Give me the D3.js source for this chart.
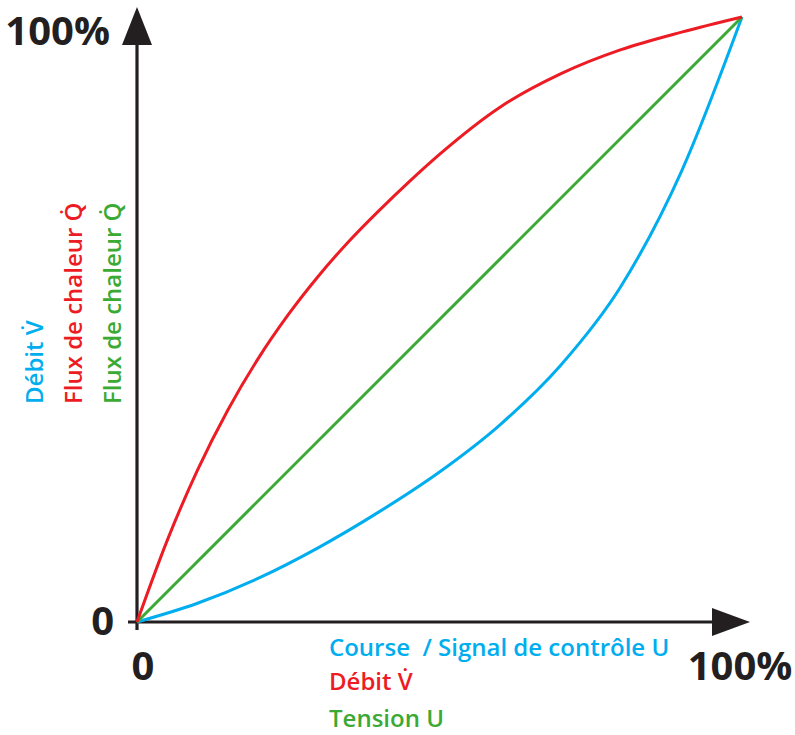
<!DOCTYPE html>
<html>
<head>
<meta charset="utf-8">
<script src="https://cdn.jsdelivr.net/npm/d3@7"></script>
<style>
  html, body { margin: 0; padding: 0; background: #fff; }
  svg text { font-family: "Open Sans", "Noto Sans", sans-serif; white-space: pre; }
</style>
</head>
<body>
<svg id="chart" width="795" height="735"></svg>
<script>
// ---- data ----
const tickValues = [0, 100];
const tickLabels = ["0", "100%"];

const redX = [0, 5, 10, 15, 20, 25, 30, 35, 40, 45, 50, 60, 70, 80, 90, 100];
const redY = [0, 13.5, 25.1, 35.0, 43.5, 50.8, 57.2, 62.9, 68.0, 72.8, 77.3, 85.1, 90.6, 94.6, 97.5, 100];
const greenX = [0, 100];
const greenY = [0, 100];
const blueX = [0, 10, 20, 30, 40, 50, 60, 70, 80, 90, 100];
const blueY = [0, 3.1, 7.2, 12.3, 18.2, 24.8, 32.6, 42.4, 55.5, 74.5, 100];

const xLabels = ["Course  / Signal de contr\u00f4le U", "D\u00e9bit V\u0307", "Tension U"];
const yLabels = ["D\u00e9bit V\u0307", "Flux de chaleur Q\u0307", "Flux de chaleur Q\u0307"];
const colors = { red: "#ed1c24", green: "#3aaa35", blue: "#00aeef", axis: "#231f20" };
const labelColors = [colors.blue, colors.red, colors.green];

// ---- scales ----
const svg = d3.select("#chart");
const x = d3.scaleLinear().domain([0, 100]).range([137, 742]);
const y = d3.scaleLinear().domain([0, 100]).range([622, 17]);

// ---- axes ----
const ax = svg.append("g").attr("stroke", colors.axis).attr("fill", colors.axis);
ax.append("line").attr("x1", x(0)).attr("x2", x(0)).attr("y1", y(0) + 8).attr("y2", y(100) + 25)
  .attr("stroke-width", 3.2);
ax.append("polygon").attr("stroke", "none")
  .attr("points", [[x(0), y(100) - 10], [x(0) - 15, y(100) + 28], [x(0) + 15, y(100) + 28]].join(" "));
ax.append("line").attr("x1", x(0) - 9).attr("x2", x(100) - 25).attr("y1", y(0)).attr("y2", y(0))
  .attr("stroke-width", 3.2);
ax.append("polygon").attr("stroke", "none")
  .attr("points", [[x(100) + 8, y(0)], [x(100) - 30, y(0) - 14], [x(100) - 30, y(0) + 14]].join(" "));

// tick labels
const tickFont = 40;
svg.selectAll("text.xtick").data(tickValues).enter().append("text")
  .attr("class", "xtick")
  .attr("x", (d, i) => i === 0 ? x(d) + 6 : x(d) - 2)
  .attr("y", y(0) + 58)
  .attr("text-anchor", "middle")
  .attr("font-size", tickFont).attr("font-weight", 700).attr("fill", colors.axis)
  .text((d, i) => tickLabels[i]);

svg.selectAll("text.ytick").data(tickValues).enter().append("text")
  .attr("class", "ytick")
  .attr("x", (d, i) => i === 0 ? 114 : 110)
  .attr("y", (d, i) => i === 0 ? y(d) + 13 : y(d) + 28)
  .attr("text-anchor", "end")
  .attr("font-size", tickFont).attr("font-weight", 700).attr("fill", colors.axis)
  .text((d, i) => tickLabels[i]);

// ---- curves ----
const line = d3.line().x(d => x(d[0])).y(d => y(d[1])).curve(d3.curveMonotoneX);
const series = [
  { xs: blueX, ys: blueY, c: colors.blue },
  { xs: greenX, ys: greenY, c: colors.green },
  { xs: redX, ys: redY, c: colors.red }
];
series.forEach(s => {
  svg.append("path")
    .attr("d", line(s.xs.map((v, i) => [v, s.ys[i]])))
    .attr("fill", "none").attr("stroke", s.c).attr("stroke-width", 3);
});

// ---- axis titles ----
const labelBaselines = [656, 690, 727];
svg.selectAll("text.xl").data(xLabels).enter().append("text")
  .attr("class", "xl")
  .attr("x", 329)
  .attr("y", (d, i) => labelBaselines[i])
  .attr("font-size", 24).attr("font-weight", 600)
  .attr("fill", (d, i) => labelColors[i])
  .text(d => d);

svg.selectAll("text.yl").data(yLabels).enter().append("text")
  .attr("class", "yl")
  .attr("transform", (d, i) => `translate(${43 + i * 39},404) rotate(-90)`)
  .attr("font-size", 24).attr("font-weight", 600)
  .attr("fill", (d, i) => labelColors[i])
  .text(d => d);
</script>
</body>
</html>
